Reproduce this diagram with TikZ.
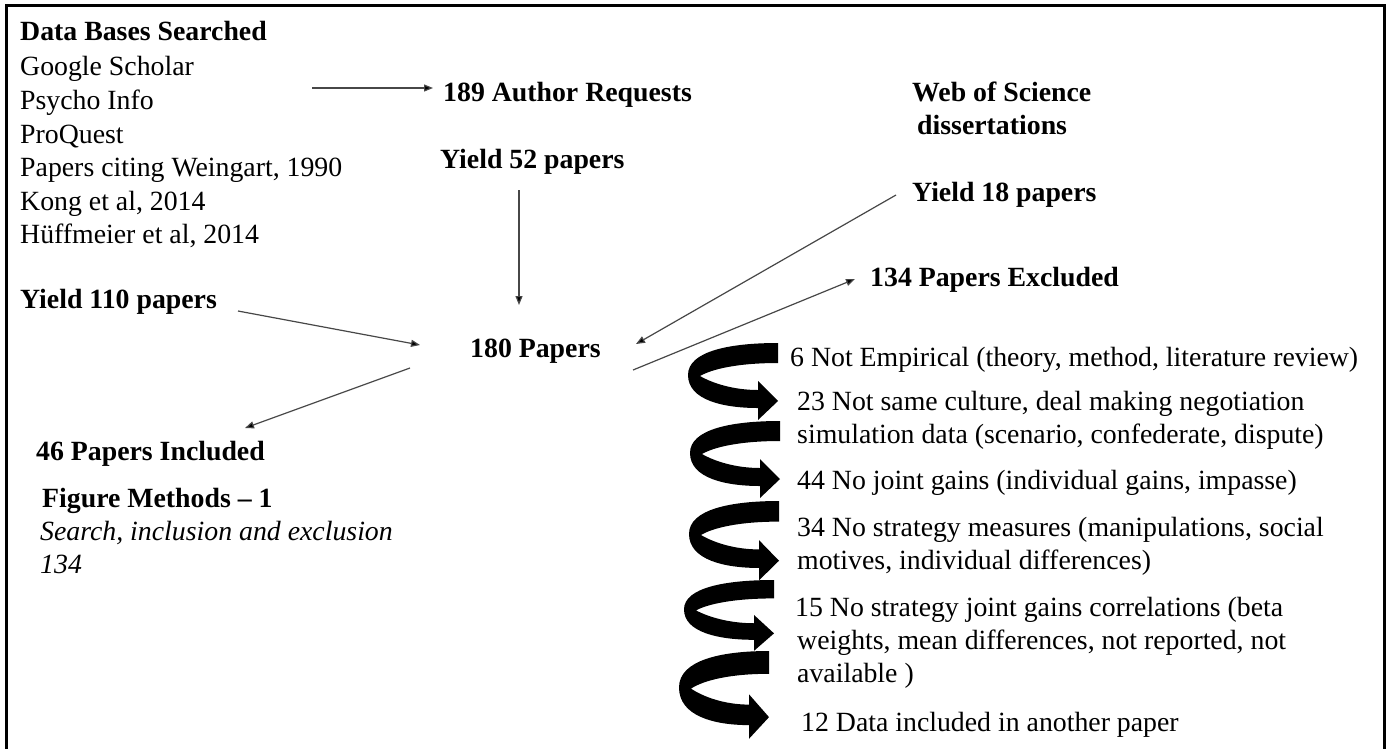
\documentclass[tikz,border=0pt]{standalone}
\usepackage{fontspec}
\setmainfont{Liberation Serif}
\usetikzlibrary{arrows.meta}
\tikzset{
  txt/.style={inner sep=0pt, anchor=base west, font=\fontsize{27.8}{33.5}\selectfont},
  btxt/.style={txt, font=\fontsize{27.8}{33.5}\selectfont\bfseries},
  itxt/.style={txt, font=\fontsize{27.8}{33.5}\selectfont\itshape},
  conn/.style={draw=black!72, line width=1.2pt, -{Triangle[length=9pt,width=7pt,fill=black]}},
  frame/.style={draw=black, line width=3pt},
}
\newcommand\spiralarrow[3]{%
  \fill[black, shift={(#1,#2)}, yscale=#3]
    (0,0) .. controls (-48,0) and (-90,8) .. (-90,32)
    .. controls (-90,57) and (-55,65) .. (-20,65)
    -- (-20,77) -- (0,58) -- (-20,38) -- (-20,47)
    .. controls (-45,47) and (-66,40) .. (-78,33)
    .. controls (-66,26) and (-40,20) .. (0,20) -- cycle;}
\begin{document}
\begin{tikzpicture}[x=1pt,y=-1pt]
\useasboundingbox (0,0) rectangle (1391,748);
\fill[white] (0,0) rectangle (1391,748);
% frame (open at the bottom edge of the picture)
\draw[frame] (6.5,760) -- (6.5,5.5) -- (1384.5,5.5) -- (1384.5,760);

% left column
\node[btxt] (db) at (20,40) {Data Bases Searched};
\node[txt] (s1) at (20,75) {Google Scholar};
\node[txt] (s2) at (20,109) {Psycho Info};
\node[txt] (s3) at (20,143) {ProQuest};
\node[txt] (s4) at (20,176) {Papers citing Weingart, 1990};
\node[txt] (s5) at (20,210) {Kong et al, 2014};
\node[txt] (s6) at (20,243) {Hüffmeier et al, 2014};
\node[btxt] (y110) at (20,308) {Yield 110 papers};
\node[btxt] (inc) at (36,460) {46 Papers Included};
\node[btxt] (fig) at (42,507) {Figure Methods – 1};
\node[itxt] (capt) at (40,540) {Search, inclusion and exclusion};
\node[itxt] (c134) at (40,573) {134};

% middle
\node[btxt] (auth) at (443,101) {189 Author Requests};
\node[btxt] (y52) at (440,168) {Yield 52 papers};
\node[btxt] (p180) at (470,357) {180 Papers};

% right top
\node[btxt] (wos) at (912,101) {Web of Science};
\node[btxt] (diss) at (917,134) {dissertations};
\node[btxt] (y18) at (912,201) {Yield 18 papers};
\node[btxt] (excl) at (870,286) {134 Papers Excluded};

% exclusion list
\node[txt] (e1) at (790,366) {6 Not Empirical (theory, method, literature review)};
\node[txt] (e2a) at (797,410) {23 Not same culture, deal making negotiation};
\node[txt] (e2b) at (797,443) {simulation data (scenario, confederate, dispute)};
\node[txt] (e3) at (797,489) {44 No joint gains (individual gains, impasse)};
\node[txt] (e4a) at (797,536) {34 No strategy measures (manipulations, social};
\node[txt] (e4b) at (797,569) {motives, individual differences)};
\node[txt] (e5a) at (795,616) {15 No strategy joint gains correlations (beta};
\node[txt] (e5b) at (797,649) {weights, mean differences, not reported, not};
\node[txt] (e5c) at (797,682) {available )};
\node[txt] (e6) at (801,731) {12 Data included in another paper};

% connector end points
\coordinate (dbA) at (312,88);
\coordinate (authA) at (433,88);
\coordinate (y52A) at (519,190);
\coordinate (p180T) at (519,305);
\coordinate (y110A) at (238,311);
\coordinate (p180L) at (420,345);
\coordinate (p180LL) at (410,368);
\coordinate (incA) at (245,428);
\coordinate (y18A) at (896,195);
\coordinate (p180R) at (636,344);
\coordinate (p180RR) at (633,370);
\coordinate (exclA) at (855,279);

\draw[conn] (dbA) -- (authA);
\draw[conn] (y52A) -- (p180T);
\draw[conn] (y110A) -- (p180L);
\draw[conn] (p180LL) -- (incA);
\draw[conn] (y18A) -- (p180R);
\draw[conn] (p180RR) -- (exclA);

% thick curled arrows
\spiralarrow{778}{343}{1}
\spiralarrow{780}{421}{1}
\spiralarrow{779}{501}{1.03}
\spiralarrow{774}{580}{0.92}
\spiralarrow{769}{651}{1.14}
\end{tikzpicture}
\end{document}
